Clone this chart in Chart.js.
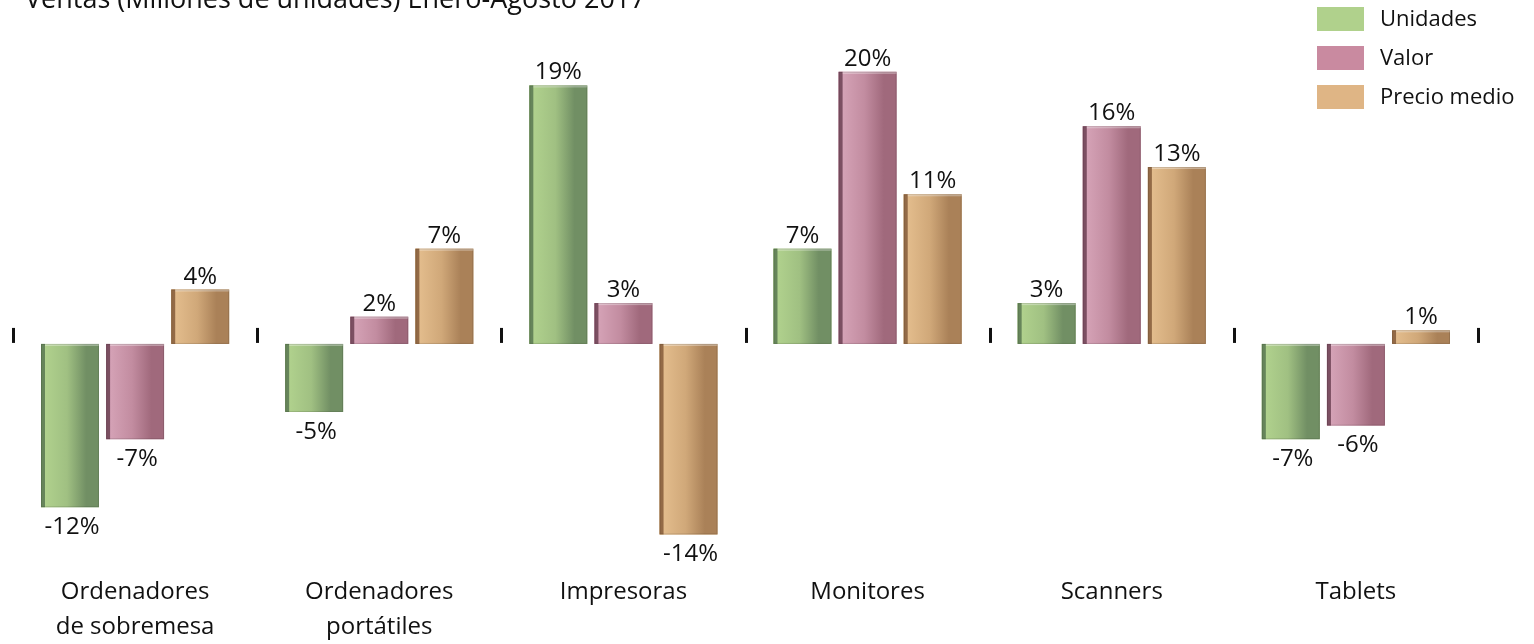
<!DOCTYPE html>
<html>
<head>
<meta charset="utf-8">
<script src="https://cdn.jsdelivr.net/npm/chart.js@4.4.1/dist/chart.umd.min.js"></script>
<style>
  html, body { margin: 0; padding: 0; background: #fff; }
  #wrap { width: 1534px; height: 644px; position: relative; }
</style>
</head>
<body>
<div id="wrap"><canvas id="bar"></canvas></div>
<script>
const chartTitle = 'Ventas (Millones de unidades) Enero-Agosto 2017';
const categories = [['Ordenadores', 'de sobremesa'], ['Ordenadores', 'portátiles'], 'Impresoras', 'Monitores', 'Scanners', 'Tablets'];
const seriesNames = ['Unidades', 'Valor', 'Precio medio'];
const unidades = [-12, -5, 19, 7, 3, -7];
const valor = [-7, 2, 3, 20, 16, -6];
const precioMedio = [4, 7, -14, 11, 13, 1];

// light / dark / edge per series
const shades = [
  { light: '#b3d48f', mid: '#a0c082', dark: '#718f64', edge: '#66855a', legend: '#b0d18c' },
  { light: '#d8a6ba', mid: '#c28ca0', dark: '#a0697c', edge: '#7c4f62', legend: '#c98aa0' },
  { light: '#e6c090', mid: '#d0a879', dark: '#aa8158', edge: '#936a46', legend: '#dfb585' }
];

const FONT = '"Open Sans", "Noto Sans", sans-serif';

// paints the bars with a shaded face, a dark side strip and the value text
const barLook = {
  id: 'barLook',
  afterDatasetsDraw(chart) {
    const ctx = chart.ctx;
    chart.data.datasets.forEach(function (ds, di) {
      const meta = chart.getDatasetMeta(di);
      const s = shades[di];
      meta.data.forEach(function (el, i) {
        const left = el.x - el.width / 2;
        const right = el.x + el.width / 2;
        const top = Math.min(el.y, el.base);
        const bottom = Math.max(el.y, el.base);
        const g = ctx.createLinearGradient(left, 0, right, 0);
        g.addColorStop(0, s.light);
        g.addColorStop(0.45, s.mid);
        g.addColorStop(0.78, s.dark);
        g.addColorStop(1, s.dark);
        ctx.save();
        ctx.fillStyle = g;
        ctx.fillRect(left, top, right - left, bottom - top);
        ctx.fillStyle = s.edge;
        ctx.fillRect(left, top, 4, bottom - top);
        ctx.fillStyle = 'rgba(255,255,255,0.35)';
        ctx.fillRect(left + 4, top, right - left - 4, 2);
        ctx.strokeStyle = 'rgba(0,0,0,0.12)';
        ctx.lineWidth = 1;
        ctx.strokeRect(left + 0.5, top + 0.5, right - left - 1, bottom - top - 1);

        const v = ds.data[i];
        ctx.fillStyle = '#111';
        ctx.font = '24px ' + FONT;
        ctx.textAlign = 'center';
        if (v >= 0) {
          ctx.textBaseline = 'alphabetic';
          ctx.fillText(v + '%', el.x, el.y - 6);
        } else {
          ctx.textBaseline = 'top';
          ctx.fillText(v + '%', el.x + 2, el.y + 8);
        }
        ctx.restore();
      });
    });
  },
  afterDraw(chart) {
    const ctx = chart.ctx;
    const x = chart.scales.x;
    const y = chart.scales.y;
    const zero = y.getPixelForValue(0);
    const n = categories.length;
    ctx.save();
    ctx.fillStyle = '#111';
    // small marks between categories on the zero line
    for (let i = 0; i <= n; i++) {
      let px;
      if (i === 0) px = x.left;
      else if (i === n) px = x.right;
      else px = (x.getPixelForValue(i - 1) + x.getPixelForValue(i)) / 2;
      ctx.fillRect(Math.round(px) - 1, zero - 16, 3, 15);
    }
    // title, partly cut at the top like the source
    ctx.font = '27px ' + FONT;
    ctx.textAlign = 'left';
    ctx.textBaseline = 'alphabetic';
    ctx.fillText(chartTitle, 25, 8);
    // legend
    ctx.font = '22px ' + FONT;
    ctx.textBaseline = 'middle';
    seriesNames.forEach(function (name, i) {
      const cy = 19 + i * 39;
      ctx.fillStyle = shades[i].legend;
      ctx.fillRect(1317, cy - 12, 47, 24);
      ctx.fillStyle = '#111';
      ctx.fillText(name, 1380, cy + 1);
    });
    ctx.restore();
  }
};

const data = {
  labels: categories,
  datasets: [
    { label: seriesNames[0], data: unidades, backgroundColor: shades[0].mid },
    { label: seriesNames[1], data: valor, backgroundColor: shades[1].mid },
    { label: seriesNames[2], data: precioMedio, backgroundColor: shades[2].mid }
  ]
};

const bar = {
  type: 'bar',
  data: data,
  options: {
    responsive: false,
    animation: false,
    categoryPercentage: 0.8,
    barPercentage: 0.89,
    layout: {
      padding: { left: 13, right: 56, top: 31, bottom: 0 }
    },
    plugins: {
      legend: { display: false },
      title: { display: false },
      tooltip: { enabled: false }
    },
    scales: {
      x: {
        grid: { display: false },
        border: { display: false },
        afterFit: function (scale) { scale.height = 96; },
        ticks: {
          color: '#111',
          padding: 19,
          maxRotation: 0,
          font: { family: FONT, size: 24, lineHeight: 1.45 }
        }
      },
      y: {
        display: false,
        min: -15,
        max: 23
      }
    }
  },
  plugins: [barLook]
};

const cv = document.getElementById('bar');
cv.width = 1534;
cv.height = 644;
cv.style.width = '1534px';
cv.style.height = '644px';
const chart = new Chart(cv, bar);
</script>
</body>
</html>
